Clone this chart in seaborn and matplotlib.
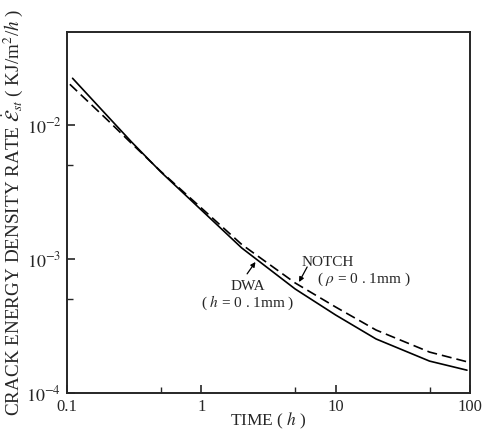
import numpy as np
import pandas as pd
import matplotlib
matplotlib.use("Agg")
import matplotlib.pyplot as plt
import matplotlib.ticker as mticker
import seaborn as sns

# values (log-log)
time_dwa = [0.11, 0.2, 0.3, 0.5, 1, 2, 5, 10, 20, 50, 95]
rate_dwa = [0.02231, 0.01167, 0.00753, 0.004459, 0.002321, 0.001208,
            0.000597, 0.000382, 0.000253, 0.000173, 0.000148]

time_notch = [0.105, 0.2, 0.3, 0.5, 1, 2, 5, 10, 20, 50, 95]
rate_notch = [0.02012, 0.01090, 0.007338, 0.004498, 0.002402, 0.001283,
              0.000662, 0.000438, 0.000295, 0.000202, 0.000171]

df = pd.concat([
    pd.DataFrame({"time": time_dwa, "rate": rate_dwa, "series": "DWA"}),
    pd.DataFrame({"time": time_notch, "rate": rate_notch, "series": "NOTCH"}),
])

sns.set_style("ticks")
plt.rcParams["font.family"] = ["Liberation Serif", "DejaVu Serif"]
plt.rcParams["mathtext.fontset"] = "stix"

fig = plt.figure(figsize=(4.82, 4.32), dpi=100)
ax = fig.add_axes([0.139, 0.0903, 0.836, 0.8357])

sns.lineplot(data=df, x="time", y="rate", style="series",
             dashes={"DWA": "", "NOTCH": (6, 3)}, color="black",
             linewidth=1.2, legend=False, ax=ax, sort=False)

ax.set_xscale("log")
ax.set_yscale("log")
ax.set_xlim(0.1, 100)
ax.set_ylim(1e-4, 10 ** -1.306)

ax.xaxis.set_major_locator(mticker.FixedLocator([0.1, 1, 10, 100]))
ax.xaxis.set_major_formatter(mticker.FixedFormatter(["0.1", "1", "10", "100"]))
ax.xaxis.set_minor_locator(mticker.FixedLocator([0.5, 5, 50]))
ax.xaxis.set_minor_formatter(mticker.NullFormatter())
ax.yaxis.set_major_locator(mticker.FixedLocator([1e-4, 1e-3, 1e-2]))
ax.yaxis.set_major_formatter(mticker.FixedFormatter(
    [r"$10^{-4}$", r"$10^{-3}$", r"$10^{-2}$"]))
ax.yaxis.set_minor_locator(mticker.FixedLocator([5e-4, 5e-3]))
ax.yaxis.set_minor_formatter(mticker.NullFormatter())

ax.tick_params(which="major", direction="in", length=6, width=1.2,
               labelsize=12, pad=4)
ax.tick_params(axis="y", which="major", labelsize=13)
ax.tick_params(which="minor", direction="in", length=4, width=1.0)
for s in ax.spines.values():
    s.set_linewidth(1.4)

ax.set_xlabel(r"TIME ( $h$ )", fontsize=12.5, labelpad=-3)
ax.set_ylabel(r"CRACK ENERGY DENSITY RATE $\dot{\mathcal{E}}_{st}$ ( KJ/m$^2$/$h$ )",
              fontsize=13.8, labelpad=1)

# DWA label (two lines in one text block)
ax.text(0.449, 0.270, "DWA\n" + r"( $h$ = 0 . 1mm )", transform=ax.transAxes,
        ha="center", va="center", fontsize=11, linespacing=1.05,
        multialignment="center")
ax.text(0.648, 0.362, "NOTCH", transform=ax.transAxes, ha="center",
        va="center", fontsize=11)
ax.text(0.737, 0.316, r"( $\rho$ = 0 . 1mm )", transform=ax.transAxes, ha="center",
        va="center", fontsize=11)

ax.annotate("", xy=(2.53, 9.5e-4), xycoords="data",
            xytext=(0.447, 0.330), textcoords="axes fraction",
            arrowprops=dict(arrowstyle="-|>", color="black", lw=0.9,
                            mutation_scale=7, shrinkA=0, shrinkB=0))
ax.annotate("", xy=(5.34, 6.73e-4), xycoords="data",
            xytext=(0.596, 0.349), textcoords="axes fraction",
            arrowprops=dict(arrowstyle="-|>", color="black", lw=0.9,
                            mutation_scale=7, shrinkA=0, shrinkB=0))

fig.savefig("out.png", dpi=100)
